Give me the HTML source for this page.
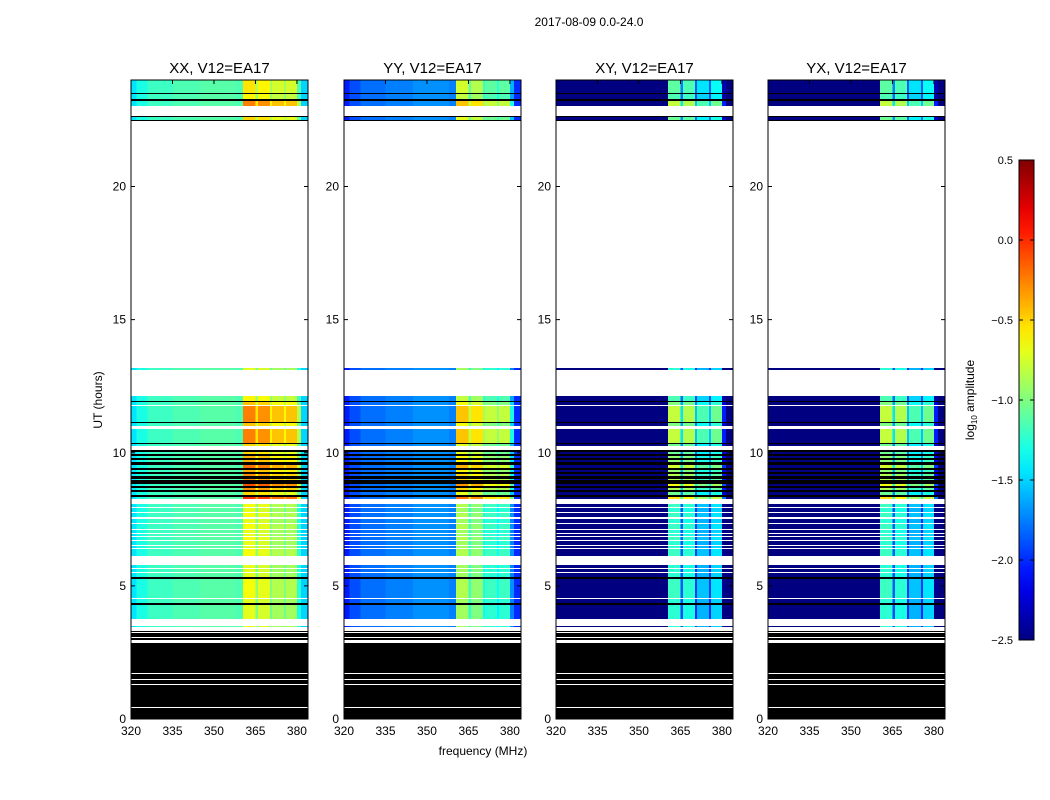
<!DOCTYPE html>
<html><head><meta charset="utf-8"><style>
html,body{margin:0;padding:0;background:#fff;}
svg{display:block;font-family:"Liberation Sans","DejaVu Sans",sans-serif;}
</style></head><body>
<svg id="fig" width="1050" height="800" viewBox="0 0 1050 800">
<rect width="1050" height="800" fill="#fff"/>
<text x="589" y="26" font-size="12" text-anchor="middle">2017-08-09 0.0-24.0</text>
<text x="483" y="755" font-size="12" text-anchor="middle">frequency (MHz)</text>
<text transform="translate(102,400) rotate(-90)" font-size="12" text-anchor="middle">UT (hours)</text>
<g id="panels"></g>
<g id="cbar"></g>
</svg>
<script>
const panelNames = ["XX, V12=EA17","YY, V12=EA17","XY, V12=EA17","YX, V12=EA17"];
const freqEdges = [320,322,326,335,345,355,358,360.5,365,366,370.3,371,375.3,376,380,381.5,384];
const rfiMask = [0,0,0,0,0,0,0,1,1,1,1,1,1,1,1,0,0];
const profXX = [-1.45,-1.3,-1.2,-1.15,-1.12,-1.12,-1.15,-0.7,-1.0,-0.75,-1.05,-0.9,-1.05,-0.9,-1.3,-1.5];
const profYY = [-2.05,-1.9,-1.8,-1.75,-1.7,-1.7,-1.75,-0.9,-1.25,-1.0,-1.35,-1.25,-1.4,-1.25,-1.75,-2.0];
const profXY = [-2.5,-2.5,-2.5,-2.5,-2.5,-2.5,-2.5,-1.25,-1.9,-1.3,-2.0,-1.6,-2.0,-1.5,-2.5,-2.5];
const profYX = [-2.5,-2.5,-2.5,-2.5,-2.5,-2.5,-2.5,-1.25,-1.9,-1.3,-2.0,-1.6,-2.0,-1.5,-2.5,-2.5];
const profiles = [profXX, profYY, profXY, profYX];
const rowHi = [24.00,23.51,23.47,23.29,23.21,22.65,22.61,22.50,13.18,12.13,11.94,11.91,11.76,11.15,11.12,10.89,10.37,10.33,10.10,10.03,9.95,9.88,9.80,9.73,9.65,9.54,9.43,9.35,9.28,9.20,9.13,9.01,8.98,8.83,8.75,8.68,8.60,8.53,8.41,8.34,8.08,7.92,7.74,7.51,7.32,7.10,6.95,6.84,6.69,6.50,6.38,5.78,5.63,5.48,5.33,5.26,4.51,4.36,4.28,3.49,3.31,3.23,3.04,2.85,1.69,1.46,1.28,0.41];
const rowLo = [23.51,23.47,23.29,23.21,23.02,22.61,22.50,22.46,13.11,11.94,11.91,11.79,11.15,11.12,11.01,10.37,10.33,10.25,10.03,9.95,9.88,9.80,9.73,9.65,9.54,9.43,9.35,9.28,9.20,9.13,9.01,8.98,8.83,8.75,8.68,8.60,8.53,8.41,8.34,8.26,7.96,7.77,7.59,7.36,7.14,6.99,6.87,6.72,6.54,6.42,6.12,5.67,5.52,5.33,5.26,4.54,4.36,4.28,3.76,3.46,3.27,3.08,2.97,1.73,1.50,1.31,0.45,0.00];
const rowType = ["d","k","d","k","d","k","d","k","d","d","k","d","d","k","d","d","k","d","k","d","k","d","k","d","k","d","k","d","k","d","k","d","k","d","k","d","k","d","k","d","d","d","d","d","d","d","d","d","d","d","d","d","d","d","k","d","d","k","d","d","k","k","k","k","k","k","k","k"];
const rowBoost = [0.15,0,0.1,0,0.45,0,0.2,0,0,0.1,0,0.25,0.45,0,0.25,0.45,0,0.2,0,0.2,0,0.3,0,0.3,0,0.5,0,0.3,0,0.4,0,0.4,0,0.6,0,0.4,0,0.2,0,0.7,0.05,0,0.05,0,0.05,0,0,0.05,0,0,0.05,0,0,0,0,0.05,0,0,0,0,0,0,0,0,0,0,0,0];
const xTicks = [320,335,350,365,380];
const yTicks = [0,5,10,15,20];
const cbTicks = [-2.5,-2.0,-1.5,-1.0,-0.5,0.0,0.5];

const NS = "http://www.w3.org/2000/svg";
const panelX = [131,344,556,768], PW = 177, PT = 80, PB = 719;
const VMIN = -2.5, VMAX = 0.5;
function xs(f, x0){ return x0 + (f-320)/(384-320)*PW; }
function ys(h){ return PB - h/24*(PB-PT); }
function jet(v){
  let t = (v-VMIN)/(VMAX-VMIN); t = Math.max(0,Math.min(1,t));
  const c = x => Math.round(255*Math.max(0,Math.min(1,x)));
  return `rgb(${c(1.5-Math.abs(4*t-3))},${c(1.5-Math.abs(4*t-2))},${c(1.5-Math.abs(4*t-1))})`;
}
function mk(tag, attrs, parent){
  const e = document.createElementNS(NS, tag);
  for (const k in attrs) e.setAttribute(k, attrs[k]);
  parent.appendChild(e); return e;
}
const G = document.getElementById("panels");
panelNames.forEach((name, p) => {
  const x0 = panelX[p];
  const g = mk("g", {}, G);
  
  
  const hm = mk("g", {"shape-rendering":"crispEdges"}, g);
  
  
  for (let r = 0; r < rowHi.length; r++) {
    const y1 = ys(rowHi[r]), y2 = ys(rowLo[r]);
    if (rowType[r] === "k") {
      const rc = mk("rect", {x:x0, y:y1, width:PW, height:Math.max(1,y2-y1), fill:"#000"}, hm);
      
      
      continue;
    }
    for (let b = 0; b < freqEdges.length-1; b++) {
      const xa = xs(freqEdges[b], x0), xb = xs(freqEdges[b+1], x0);
      const v = profiles[p][b] + (rfiMask[b] ? rowBoost[r] : 0);
      const rc = mk("rect", {x:xa, y:y1, width:xb-xa+0.3, height:Math.max(1,y2-y1), fill:jet(v)}, hm);
      
      
    }
  }
  const fr = mk("rect", {x:x0, y:PT, width:PW, height:PB-PT, fill:"none", stroke:"#000", "stroke-width":1}, g);
  
  
  const tt = mk("text", {x:x0+PW/2, y:73, "font-size":15, "text-anchor":"middle"}, g);
  tt.textContent = name;
  
  
  xTicks.forEach(t => {
    const x = xs(t, x0);
    mk("line", {x1:x, x2:x, y1:PB, y2:PB-4, stroke:"#000"}, g);
    mk("line", {x1:x, x2:x, y1:PT, y2:PT+4, stroke:"#000"}, g);
    const l = mk("text", {x:x, y:735, "font-size":12, "text-anchor":"middle"}, g);
    l.textContent = t;
    
    
  });
  yTicks.forEach(t => {
    const y = ys(t);
    mk("line", {x1:x0, x2:x0+4, y1:y, y2:y, stroke:"#000"}, g);
    mk("line", {x1:x0+PW, x2:x0+PW-4, y1:y, y2:y, stroke:"#000"}, g);
    const l = mk("text", {x:x0-5, y:y+4, "font-size":12, "text-anchor":"end"}, g);
    l.textContent = t;
    
    
  });
});
const CB = document.getElementById("cbar");
const cx = 1019, cw = 15, ct = 160, cbot = 640;
const defs = mk("defs", {}, CB);
const grad = mk("linearGradient", {id:"jetg", x1:0, y1:1, x2:0, y2:0}, defs);
for (let i = 0; i <= 20; i++) {
  mk("stop", {offset: i/20, "stop-color": jet(VMIN + (VMAX-VMIN)*i/20)}, grad);
}
const cbr = mk("rect", {x:cx, y:ct, width:cw, height:cbot-ct, fill:"url(#jetg)", stroke:"#000", "stroke-width":1}, CB);


cbTicks.forEach(t => {
  const y = cbot - (t-VMIN)/(VMAX-VMIN)*(cbot-ct);
  mk("line", {x1:cx, x2:cx+4, y1:y, y2:y, stroke:"#000"}, CB);
  mk("line", {x1:cx+cw, x2:cx+cw-4, y1:y, y2:y, stroke:"#000"}, CB);
  const l = mk("text", {x:cx-6, y:y+4, "font-size":11, "text-anchor":"end"}, CB);
  l.textContent = t.toFixed(1).replace("-", "\u2212");
  
  
});
const cl = mk("text", {transform:"translate(974,400) rotate(-90)", "font-size":12, "text-anchor":"middle"}, CB);
cl.innerHTML = 'log<tspan font-size="8" dy="3">10</tspan><tspan dy="-3"> amplitude</tspan>';


</script>
</body></html>
